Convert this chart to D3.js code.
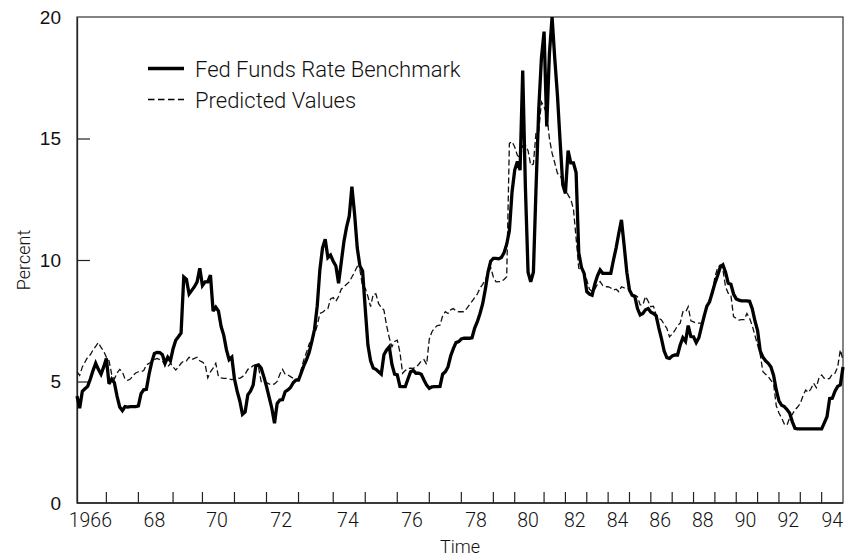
<!DOCTYPE html>
<html>
<head>
<meta charset="utf-8">
<script src="https://cdn.jsdelivr.net/npm/d3@7"></script>
<style>
  html, body { margin: 0; padding: 0; background: #fff; }
  svg { display: block; font-family: Roboto, "Liberation Sans", Arial, sans-serif; font-weight: 300; }
</style>
</head>
<body>
<svg id="chart" width="846" height="556"></svg>
<script>
// FOMC meetings per calendar year (the x axis advances one step per meeting)
const years = d3.range(1966, 1995);
const meetingsPerYear = [11, 12, 13, 11, 12, 12, 12, 13, 12, 12, 12, 12, 12, 8, 11, 8,
                         8, 8, 8, 8, 8, 8, 8, 8, 8, 8, 8, 8, 9];

// Federal funds rate benchmark, percent, one value per meeting
const fedFunds = [
  4.4, 3.9, 4.6, 4.7, 4.8, 5.1, 5.45, 5.75, 5.5, 5.3, 5.6, 5.95,
  4.9, 5.1, 4.95, 4.4, 3.95, 3.8, 3.97, 3.95, 3.97, 3.97, 3.97, 4.0,
  4.5, 4.66, 4.68, 5.3, 5.8, 6.15, 6.2, 6.19, 6.1, 5.75, 6.0, 5.85,
  6.35, 6.7, 6.84, 7.0, 9.3, 9.2, 8.6, 8.75, 8.9, 9.1, 9.66, 8.95,
  9.1, 9.1, 9.38, 7.9, 8.06, 7.9, 7.26, 6.9, 6.3, 5.9, 6.0, 5.1,
  4.6, 4.2, 3.65, 3.75, 4.45, 4.6, 4.85, 5.65, 5.68, 5.55, 5.2, 4.8,
  4.35, 3.9, 3.28, 4.1, 4.24, 4.25, 4.58, 4.65, 4.75, 4.95, 5.06, 5.06,
  5.35, 5.65, 5.9, 6.2, 6.65, 7.15, 8.1, 9.6, 10.5, 10.85, 10.1, 10.2,
  9.95, 9.75, 9.04, 9.9, 10.75, 11.35, 11.8, 13.02, 11.9, 10.5, 9.75, 9.55,
  8.0, 6.5, 5.85, 5.55, 5.5, 5.4, 5.3, 6.1, 6.3, 6.43, 5.7, 5.3,
  5.27, 4.8, 4.79, 4.79, 5.1, 5.4, 5.45, 5.34, 5.34, 5.3, 5.06, 4.85,
  4.72, 4.78, 4.79, 4.79, 4.8, 5.3, 5.4, 5.6, 6.05, 6.35, 6.6, 6.64,
  6.75, 6.78, 6.78, 6.78, 6.8, 7.2, 7.46, 7.8, 8.2, 8.8, 9.5, 9.95,
  10.07, 10.07, 10.05, 10.1, 10.3, 10.65, 11.2, 12.8, 13.7, 14.05, 13.7, 17.8,
  13.0, 9.5, 9.1, 9.5, 13.0, 16.2, 18.3, 19.4, 15.5, 18.5, 20.0, 18.3,
  16.8, 14.9, 13.1, 12.74, 14.5, 14.0, 14.0, 13.6, 10.3, 9.7, 9.45, 8.7,
  8.6, 8.55, 9.0, 9.35, 9.59, 9.45, 9.45, 9.45, 9.45, 10.0, 10.5, 11.1,
  11.65, 10.6, 9.5, 8.77, 8.55, 8.5, 8.0, 7.74, 7.8, 7.95, 8.0, 7.85,
  7.8, 7.7, 7.2, 6.75, 6.25, 5.98, 5.95, 6.05, 6.09, 6.09, 6.5, 6.8,
  6.65, 7.3, 6.85, 6.84, 6.6, 6.8, 7.26, 7.7, 8.1, 8.28, 8.65, 9.04,
  9.35, 9.7, 9.8, 9.5, 9.04, 9.0, 8.6, 8.4, 8.35, 8.32, 8.32, 8.32,
  8.3, 8.0, 7.5, 7.1, 6.25, 6.0, 5.85, 5.75, 5.6, 5.25, 4.65, 4.2,
  4.02, 3.97, 3.85, 3.7, 3.35, 3.07, 3.05, 3.05, 3.05, 3.05, 3.05, 3.05,
  3.05, 3.05, 3.05, 3.05, 3.3, 3.55, 4.3, 4.31, 4.6, 4.8, 4.86, 5.6
];

// Values predicted by the reaction-function model, percent
const predicted = [
  5.4, 5.25, 5.6, 5.8, 6.0, 6.1, 6.3, 6.45, 6.6, 6.4, 6.25, 6.0,
  5.85, 5.3, 5.1, 5.35, 5.5, 5.4, 5.1, 5.05, 5.1, 5.25, 5.35, 5.4,
  5.4, 5.45, 5.68, 5.75, 5.8, 5.9, 5.95, 5.9, 5.85, 5.65, 5.6, 5.75,
  5.6, 5.47, 5.6, 5.75, 5.85, 5.85, 6.0, 5.9, 5.95, 6.0, 5.85, 5.8,
  5.7, 5.15, 5.4, 5.55, 5.75, 5.2, 5.15, 5.13, 5.13, 5.1, 5.08, 5.1,
  5.15, 5.13, 5.2, 5.3, 5.5, 5.55, 5.65, 5.68, 5.6, 5.0, 5.0, 4.95,
  4.9, 4.86, 4.9, 5.0, 5.3, 5.5, 5.3, 5.27, 5.2, 5.13, 5.1, 5.1,
  5.5, 5.9, 6.2, 6.55, 6.7, 6.95, 7.3, 7.8, 7.85, 7.94, 8.0, 8.4,
  8.45, 8.3, 8.5, 8.8, 8.9, 9.0, 9.1, 9.3, 9.5, 9.73, 9.6, 8.9,
  8.84, 8.5, 8.08, 8.6, 8.6, 8.2, 8.05, 7.94, 7.3, 6.8, 6.43, 6.65,
  6.7, 6.2, 5.34, 5.45, 5.54, 5.55, 5.54, 5.6, 5.7, 5.85, 5.9, 5.7,
  6.75, 7.05, 7.2, 7.3, 7.32, 7.7, 7.87, 7.8, 7.95, 8.0, 7.9, 7.87,
  7.87, 7.87, 8.0, 8.15, 8.3, 8.45, 8.6, 8.84, 9.0, 9.2, 9.4, 9.7,
  9.3, 9.1, 9.11, 9.11, 9.2, 9.31, 14.8, 14.87, 14.65, 14.3, 14.2, 14.7,
  14.73, 14.5, 13.9, 13.95, 15.28, 15.3, 16.5, 16.3, 16.0, 15.0, 14.4, 14.0,
  13.57, 13.45, 13.3, 13.0, 12.67, 12.5, 12.1, 10.9, 9.66, 9.6, 9.5, 9.18,
  8.8, 8.7, 8.8, 9.0, 9.11, 8.95, 8.9, 8.9, 8.85, 8.77, 8.8, 8.7,
  8.9, 8.85, 8.85, 8.8, 8.56, 8.55, 8.49, 8.15, 8.15, 8.5, 8.3, 8.08,
  8.1, 7.74, 7.6, 7.53, 7.35, 7.19, 6.84, 6.95, 7.1, 7.3, 7.4, 7.87,
  7.85, 8.08, 7.5, 7.45, 7.4, 7.4, 7.4, 7.7, 8.08, 8.35, 8.6, 9.3,
  9.66, 9.8, 9.6, 8.9, 8.63, 8.55, 7.67, 7.6, 7.53, 7.55, 7.55, 7.8,
  7.6, 7.3, 6.9, 6.5, 6.1, 5.4, 5.3, 5.2, 5.05, 4.9, 4.0, 3.7,
  3.5, 3.25, 3.2, 3.5, 3.65, 3.83, 3.95, 4.1, 4.4, 4.65, 4.55, 4.7,
  4.93, 4.75, 5.15, 5.27, 5.13, 5.1, 5.13, 5.3, 5.34, 5.6, 6.3, 5.88
];

const yTicks = [0, 5, 10, 15, 20];
const seriesNames = ["Fed Funds Rate Benchmark", "Predicted Values"];

const svg = d3.select("#chart");
const margin = { left: 77, right: 3, top: 17, bottom: 53 };
const W = 846, H = 556;
const plotW = W - margin.left - margin.right;
const plotH = H - margin.top - margin.bottom;

// Meeting index at which each year begins
const yearStart = [];
let acc = 0;
meetingsPerYear.forEach(n => { yearStart.push(acc); acc += n; });
const total = acc;

const x = d3.scaleLinear().domain([0, total - 1]).range([margin.left, margin.left + plotW]);
const y = d3.scaleLinear().domain([0, 20]).range([margin.top + plotH, margin.top]);

const axisColor = "#222";

// Frame: top and right borders
svg.append("rect")
  .attr("x", margin.left).attr("y", margin.top)
  .attr("width", plotW).attr("height", plotH)
  .attr("fill", "none").attr("stroke", "#333").attr("stroke-width", 1.2);

// Y axis: inward ticks, labels to the left
const yAxis = d3.axisLeft(y).tickValues(yTicks).tickSize(0).tickPadding(16).tickFormat(d3.format("d"));
const gy = svg.append("g").attr("transform", `translate(${margin.left},0)`).call(yAxis);
gy.select(".domain").attr("stroke", axisColor).attr("stroke-width", 1.3);
gy.selectAll("text").attr("font-size", 19).attr("fill", "#111").attr("font-family", null);
gy.selectAll(".tick").filter(d => d > 0 && d < 20).append("line")
  .attr("x1", 0).attr("x2", 13).attr("stroke", axisColor).attr("stroke-width", 1.2);

// X axis: year boundaries as inward ticks, labels centred on every other year
const xBottom = margin.top + plotH;
const gx = svg.append("g");
gx.append("line")
  .attr("x1", margin.left).attr("x2", margin.left + plotW)
  .attr("y1", xBottom).attr("y2", xBottom)
  .attr("stroke", axisColor).attr("stroke-width", 1.3);
gx.selectAll("line.tick").data(yearStart.slice(1)).join("line")
  .attr("class", "tick")
  .attr("x1", d => x(d)).attr("x2", d => x(d))
  .attr("y1", xBottom).attr("y2", xBottom - 11)
  .attr("stroke", axisColor).attr("stroke-width", 1.2);
gx.selectAll("text").data(years.filter(yr => yr % 2 === 0)).join("text")
  .attr("x", yr => {
    const k = yr - 1966;
    return x(yearStart[k] + meetingsPerYear[k] / 2 - 0.5);
  })
  .attr("y", xBottom + 24)
  .attr("text-anchor", "middle")
  .attr("font-size", 19.5).attr("fill", "#111")
  .text(yr => yr === 1966 ? "1966" : String(yr).slice(2));

// Axis titles
svg.append("text")
  .attr("x", margin.left + plotW / 2).attr("y", 553)
  .attr("text-anchor", "middle").attr("font-size", 18).attr("fill", "#111")
  .text("Time");
svg.append("text")
  .attr("transform", `translate(30,${margin.top + plotH / 2}) rotate(-90)`)
  .attr("text-anchor", "middle").attr("font-size", 18).attr("fill", "#111")
  .text("Percent");

// Series lines
const line = d3.line().x((d, i) => x(i)).y(d => y(d));
const plot = svg.append("g");
plot.append("path").datum(predicted)
  .attr("d", line).attr("fill", "none")
  .attr("stroke", "#111").attr("stroke-width", 1.3)
  .attr("stroke-dasharray", "6,3");
plot.append("path").datum(fedFunds)
  .attr("d", line).attr("fill", "none")
  .attr("stroke", "#000").attr("stroke-width", 3.3)
  .attr("stroke-linejoin", "miter").attr("stroke-miterlimit", 3);

// Legend
const legend = svg.append("g");
const legendRows = [
  { name: seriesNames[0], width: 3.3, dash: null, y: 68.5 },
  { name: seriesNames[1], width: 1.3, dash: "6.5,3.5", y: 99.5 }
];
legendRows.forEach(r => {
  legend.append("line")
    .attr("x1", 148).attr("x2", 184).attr("y1", r.y).attr("y2", r.y)
    .attr("stroke", "#000").attr("stroke-width", r.width)
    .attr("stroke-dasharray", r.dash);
  legend.append("text")
    .attr("x", 195).attr("y", r.y + 8)
    .attr("font-size", 22).attr("fill", "#111")
    .text(r.name);
});
</script>
</body>
</html>
